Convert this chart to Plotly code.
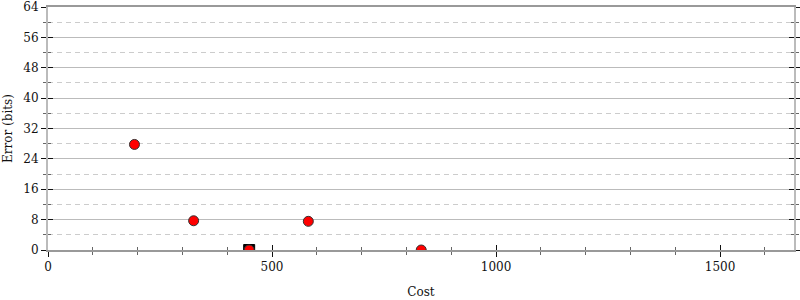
import plotly.graph_objects as go

# Data
cost = [193, 325, 449, 581, 833]
error_bits = [27.8, 7.7, 0.0, 7.55, 0.0]
best_cost = [449]
best_error = [0.0]

x_ticks = [0, 500, 1000, 1500]
y_ticks = [0, 8, 16, 24, 32, 40, 48, 56, 64]

font = dict(family="DejaVu Serif", size=12, color="#111")

fig = go.Figure()
fig.add_trace(go.Scatter(
    x=best_cost, y=best_error, mode="markers",
    marker=dict(symbol="square", size=11, color="black",
                line=dict(color="black", width=1)),
    cliponaxis=True, showlegend=False, hoverinfo="skip"))
fig.add_trace(go.Scatter(
    x=cost, y=error_bits, mode="markers",
    marker=dict(symbol="circle", size=10, color="#ff0000",
                line=dict(color="#333", width=1)),
    cliponaxis=True, showlegend=False))

xr = [0, 1665]
yr = [0, 64]

fig.update_layout(
    width=800, height=300,
    margin=dict(l=48, r=6, t=7, b=50, autoexpand=False),
    paper_bgcolor="white", plot_bgcolor="white",
    font=font, showlegend=False,
    xaxis=dict(
        range=xr, tickvals=x_ticks, ticktext=[str(v) for v in x_ticks],
        showgrid=False, zeroline=False,
        showline=True, linecolor="#999", linewidth=2, mirror=True,
        ticks="outside", ticklen=5, tickcolor="#111", tickwidth=1,
        minor=dict(dtick=100, tick0=0, ticks="outside", ticklen=3,
                   tickcolor="#666", showgrid=False),
        title=dict(text="Cost", standoff=14, font=font),
        automargin=False, tickfont=font,
    ),
    xaxis2=dict(
        range=xr, overlaying="x", tickvals=x_ticks,
        showticklabels=False, showgrid=False, zeroline=False, showline=False,
        ticks="inside", ticklen=5, tickcolor="#111",
        minor=dict(dtick=100, tick0=0, ticks="inside", ticklen=3,
                   tickcolor="#666", showgrid=False),
        automargin=False,
    ),
    yaxis=dict(
        range=yr, tickvals=y_ticks, ticktext=[str(v) for v in y_ticks],
        showgrid=True, gridcolor="#bbb", gridwidth=1, zeroline=False,
        showline=True, linecolor="#bbb", linewidth=2, mirror="allticks",
        ticks="outside", ticklen=5, tickcolor="#111",
        minor=dict(dtick=4, tick0=0, ticks="outside", ticklen=3,
                   tickcolor="#666", showgrid=True, gridcolor="#ccc",
                   griddash="5px,4px", gridwidth=1),
        title=dict(text="Error (bits)", standoff=8, font=font),
        automargin=False, tickfont=font,
    ),
    yaxis2=dict(
        range=yr, overlaying="y", side="left", tickvals=y_ticks,
        showticklabels=False, showgrid=False, zeroline=False, showline=False,
        mirror="allticks",
        ticks="inside", ticklen=5, tickcolor="#111",
        minor=dict(dtick=4, tick0=0, ticks="inside", ticklen=3,
                   tickcolor="#666", showgrid=False),
        automargin=False,
    ),
)

# invisible trace to activate the overlay axes
fig.add_trace(go.Scatter(x=[None], y=[None], xaxis="x2", yaxis="y2",
                         showlegend=False, hoverinfo="skip"))

fig.write_html("out.html")
